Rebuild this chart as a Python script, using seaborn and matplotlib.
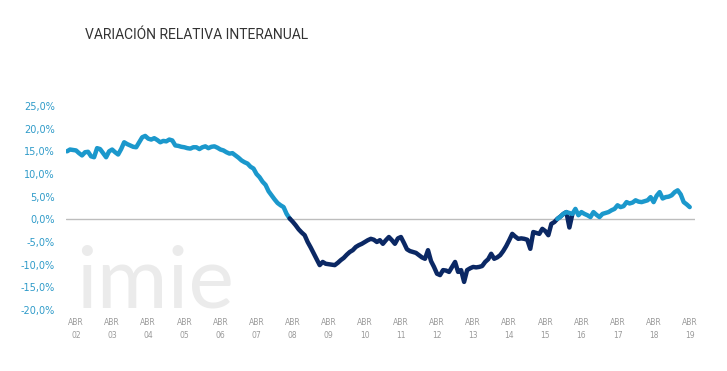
import matplotlib
matplotlib.use('Agg')
import matplotlib.pyplot as plt
import seaborn as sns
import numpy as np
import pandas as pd

# variacion interanual mensual, ene 2002 - abr 2019 (%)
anio_inicio = 2002
variacion = [
    # 2002
    15.0, 15.4, 15.3, 15.2, 14.6, 14.1, 14.8, 14.9, 13.9, 13.7, 15.7, 15.5,
    # 2003
    14.6, 13.7, 15.0, 15.4, 14.8, 14.3, 15.5, 17.0, 16.6, 16.3, 16.0, 15.9,
    # 2004
    17.0, 18.1, 18.4, 17.8, 17.6, 17.9, 17.5, 17.0, 17.3, 17.2, 17.6, 17.4,
    # 2005
    16.3, 16.2, 16.0, 15.9, 15.7, 15.6, 15.9, 15.9, 15.5, 15.9, 16.1, 15.7,
    # 2006
    16.0, 16.1, 15.8, 15.4, 15.2, 14.8, 14.5, 14.6, 14.1, 13.6, 13.0, 12.6,
    # 2007
    12.3, 11.6, 11.2, 10.0, 9.3, 8.3, 7.6, 6.2, 5.3, 4.4, 3.6, 3.1,
    # 2008
    2.7, 1.2, 0.2, -0.5, -1.3, -2.2, -2.9, -3.5, -5.0, -6.2, -7.5, -8.8,
    # 2009
    -10.1, -9.4, -9.8, -9.9, -10.0, -10.1, -9.6, -9.0, -8.5, -7.8, -7.2, -6.8,
    # 2010
    -6.1, -5.7, -5.4, -5.0, -4.6, -4.3, -4.5, -5.0, -4.6, -5.4, -4.6, -3.9,
    # 2011
    -4.6, -5.4, -4.2, -3.9, -5.2, -6.6, -7.0, -7.2, -7.4, -7.9, -8.4, -8.7,
    # 2012
    -6.8, -9.2, -10.5, -12.0, -12.3, -11.2, -11.3, -11.6, -10.5, -9.4, -11.6, -11.2,
    # 2013
    -13.8, -11.2, -10.8, -10.5, -10.6, -10.5, -10.3, -9.4, -8.8, -7.6, -8.7, -8.4,
    # 2014
    -7.9, -7.0, -5.9, -4.6, -3.2, -3.8, -4.3, -4.2, -4.3, -4.5, -6.5, -2.8,
    # 2015
    -3.0, -3.2, -2.1, -2.6, -3.5, -1.0, -0.6, 0.1, 0.6, 1.2, 1.6, -1.8,
    # 2016
    1.2, 2.3, 0.9, 1.6, 1.2, 0.9, 0.5, 1.6, 1.0, 0.5, 1.2, 1.4,
    # 2017
    1.6, 2.0, 2.3, 3.1, 2.7, 2.9, 3.8, 3.5, 3.7, 4.2, 3.9, 3.8,
    # 2018
    4.0, 4.2, 4.9, 3.8, 5.2, 6.0, 4.6, 4.9, 5.0, 5.3, 6.0, 6.4,
    # 2019
    5.5, 3.8, 3.3, 2.7,
]

# tramos: claro hasta abr 2008, oscuro abr 2008 - ene 2016, claro desde ago 2015
inicio_oscuro = 74
fin_oscuro = 168
inicio_claro = 163
punto_bajo = 167  # el pico oscuro que queda visible bajo la linea clara

anios_eje = ['02', '03', '04', '05', '06', '07', '08', '09', '10',
             '11', '12', '13', '14', '15', '16', '17', '18', '19']
yticks = [-20, -15, -10, -5, 0, 5, 10, 15, 20, 25]

azul_claro = '#1b98cc'
azul_oscuro = '#0b2864'

df = pd.DataFrame({'valor': variacion})
df['t'] = anio_inicio + np.arange(len(df)) / 12.0

tramo1 = df.iloc[:inicio_oscuro + 1]
tramo2 = df.iloc[inicio_oscuro:fin_oscuro + 1]
tramo3 = df.iloc[inicio_claro:].copy()
tramo3.loc[punto_bajo, 'valor'] = np.nan

sns.set_style('white')
plt.rcParams['font.family'] = ['DejaVu Sans']

fig = plt.figure(figsize=(7.27, 3.71), dpi=100)
ax = fig.add_axes([66 / 727, 61 / 371, 629 / 727, 204 / 371])

# marca de agua
fig.text(76 / 727, 63 / 371, 'imie', fontsize=62, color='#ebebeb',
         family=['Lato', 'DejaVu Sans'], va='baseline', zorder=0)

ax.axhline(0, color='#bdbdbd', lw=1, zorder=1)
kw = dict(x='t', y='valor', ax=ax, lw=3.2, legend=False)
sns.lineplot(data=tramo1, color=azul_claro, zorder=3, **kw)
sns.lineplot(data=tramo2, color=azul_oscuro, zorder=3, **kw)
sns.lineplot(data=tramo3, color=azul_claro, zorder=4, **kw)

ax.set_xlim(anio_inicio - 1 / 36.1, anio_inicio + 628 / 36.1)
ax.set_ylim(-20, 25)
ax.set_xticks([anio_inicio + 0.25 + k for k in range(len(anios_eje))])
ax.set_xticklabels(['ABR\n' + a for a in anios_eje], fontsize=5.5,
                   color='#9a9a9a', linespacing=1.5)
ax.set_yticks(yticks)
ax.set_yticklabels([('%.1f%%' % v).replace('.', ',') for v in yticks],
                   fontsize=7, color='#2f9bc9')
ax.tick_params(axis='y', length=0, pad=8)
ax.tick_params(axis='x', length=0, pad=6)
ax.set_xlabel('')
ax.set_ylabel('')
ax.patch.set_alpha(0)
sns.despine(ax=ax, left=True, bottom=True)

fig.text(85 / 727, 1 - 39 / 371, 'VARIACIÓN RELATIVA INTERANUAL', fontsize=10,
         color='#333333', family=['Roboto', 'DejaVu Sans'])

fig.savefig('out.png', dpi=100)
